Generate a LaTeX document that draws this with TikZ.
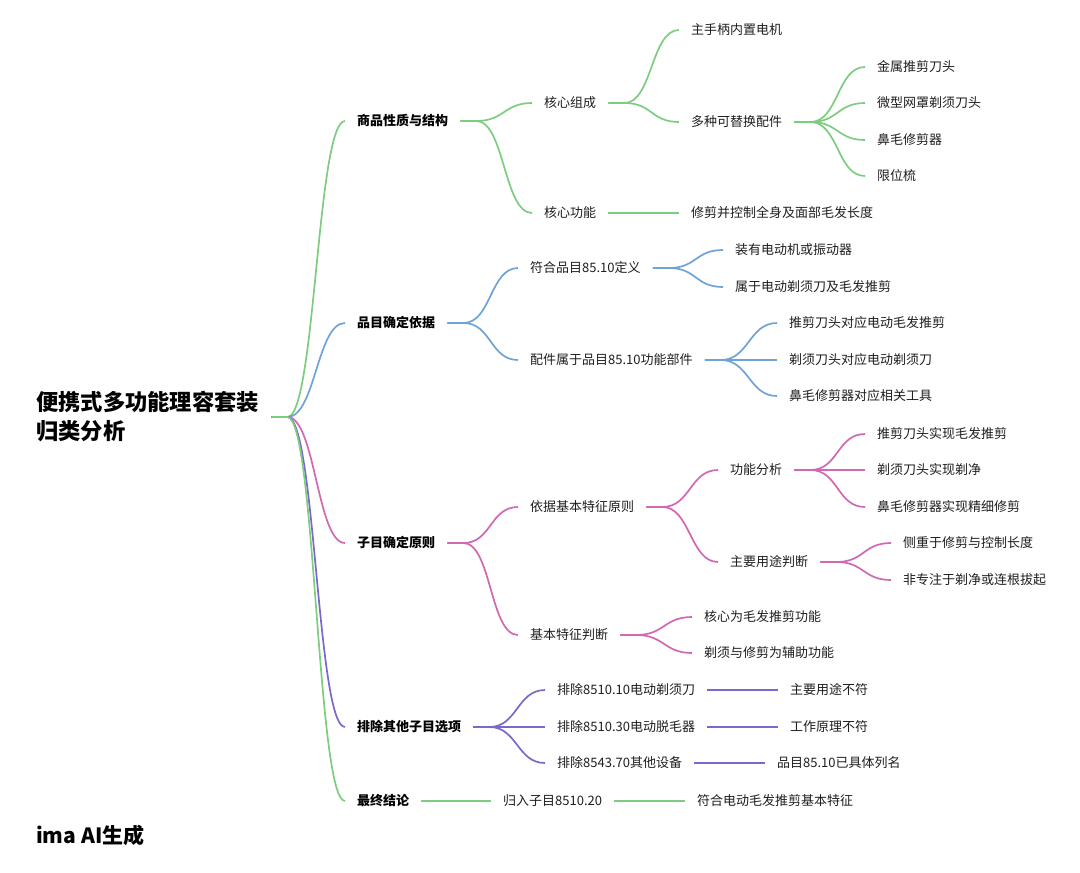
\documentclass[tikz,border=0pt]{standalone}
\usepackage{fontspec}
\setmainfont{Noto Sans CJK SC}
\usepackage{tikz}
\definecolor{branchgreen}{RGB}{126,204,128}
\definecolor{branchblue}{RGB}{111,163,214}
\definecolor{branchpink}{RGB}{208,104,178}
\definecolor{branchpurple}{RGB}{122,104,204}
\definecolor{topictext}{RGB}{30,30,30}
\tikzset{
  topic/.style={anchor=west,inner xsep=12pt,inner ysep=0pt,text=topictext,
    font=\fontsize{13}{16}\selectfont,text height=10.5pt,text depth=2.5pt},
  maintopic/.style={topic,font=\fontsize{13}{16}\selectfont\bfseries,text=black},
  roottopic/.style={anchor=west,inner xsep=12pt,inner ysep=0pt,align=left,
    font=\fontsize{22.3}{29}\selectfont\bfseries},
  branch/.style={line width=1.7pt,
    to path={-- ++(16,0) .. controls +(28,0) and +(-28,0) .. (\tikztotarget)}},
  link/.style={line width=1.7pt}
}

\begin{document}
\begin{tikzpicture}[x=1pt,y=-1pt]
  \useasboundingbox (0,0) rectangle (1080,873);
  \node[roottopic] (r) at (24,417) {便携式多功能理容套装\\归类分析};
  \node[maintopic] (a) at (345,121) {商品性质与结构};
  \node[maintopic] (b) at (345,323) {品目确定依据};
  \node[maintopic] (c) at (345,543) {子目确定原则};
  \node[maintopic] (d) at (345,727) {排除其他子目选项};
  \node[maintopic] (e) at (345,801) {最终结论};
  \node[topic] (a1) at (532,103) {核心组成};
  \node[topic] (a2) at (532,213) {核心功能};
  \node[topic] (a11) at (679,30) {主手柄内置电机};
  \node[topic] (a12) at (679,122) {多种可替换配件};
  \node[topic] (a121) at (865,67) {金属推剪刀头};
  \node[topic] (a122) at (865,103) {微型网罩剃须刀头};
  \node[topic] (a123) at (865,140) {鼻毛修剪器};
  \node[topic] (a124) at (865,176) {限位梳};
  \node[topic] (a21) at (679,213) {修剪并控制全身及面部毛发长度};
  \node[topic] (b1) at (518,268) {符合品目85.10定义};
  \node[topic] (b2) at (518,360) {配件属于品目85.10功能部件};
  \node[topic] (b11) at (723,250) {装有电动机或振动器};
  \node[topic] (b12) at (723,287) {属于电动剃须刀及毛发推剪};
  \node[topic] (b21) at (777,323) {推剪刀头对应电动毛发推剪};
  \node[topic] (b22) at (777,360) {剃须刀头对应电动剃须刀};
  \node[topic] (b23) at (777,396) {鼻毛修剪器对应相关工具};
  \node[topic] (c1) at (518,507) {依据基本特征原则};
  \node[topic] (c2) at (518,635) {基本特征判断};
  \node[topic] (c11) at (718,470) {功能分析};
  \node[topic] (c12) at (718,562) {主要用途判断};
  \node[topic] (c111) at (865,434) {推剪刀头实现毛发推剪};
  \node[topic] (c112) at (865,470) {剃须刀头实现剃净};
  \node[topic] (c113) at (865,507) {鼻毛修剪器实现精细修剪};
  \node[topic] (c121) at (891,543) {侧重于修剪与控制长度};
  \node[topic] (c122) at (891,580) {非专注于剃净或连根拔起};
  \node[topic] (c21) at (692,617) {核心为毛发推剪功能};
  \node[topic] (c22) at (692,653) {剃须与修剪为辅助功能};
  \node[topic] (d1) at (545,690) {排除8510.10电动剃须刀};
  \node[topic] (d2) at (545,727) {排除8510.30电动脱毛器};
  \node[topic] (d3) at (545,763) {排除8543.70其他设备};
  \node[topic] (d11) at (778,690) {主要用途不符};
  \node[topic] (d21) at (778,727) {工作原理不符};
  \node[topic] (d31) at (765,763) {品目85.10已具体列名};
  \node[topic] (e1) at (491,801) {归入子目8510.20};
  \node[topic] (e11) at (685,801) {符合电动毛发推剪基本特征};
  \node[anchor=west,inner sep=0pt,font=\fontsize{21}{26}\selectfont\bfseries] (mark) at (36,835) {ima AI生成};
  \draw[branch,branchgreen] (r.east) to (a.west);
  \draw[branch,branchblue] (r.east) to (b.west);
  \draw[branch,branchpink] (r.east) to (c.west);
  \draw[branch,branchpurple] (r.east) to (d.west);
  \draw[branch,branchgreen] (r.east) to (e.west);
  \draw[branch,branchgreen] (a.east) to (a1.west);
  \draw[branch,branchgreen] (a.east) to (a2.west);
  \draw[branch,branchgreen] (a1.east) to (a11.west);
  \draw[branch,branchgreen] (a1.east) to (a12.west);
  \draw[branch,branchgreen] (a12.east) to (a121.west);
  \draw[branch,branchgreen] (a12.east) to (a122.west);
  \draw[branch,branchgreen] (a12.east) to (a123.west);
  \draw[branch,branchgreen] (a12.east) to (a124.west);
  \draw[link,branchgreen] (a2.east) -- (a21.west);
  \draw[branch,branchblue] (b.east) to (b1.west);
  \draw[branch,branchblue] (b.east) to (b2.west);
  \draw[branch,branchblue] (b1.east) to (b11.west);
  \draw[branch,branchblue] (b1.east) to (b12.west);
  \draw[branch,branchblue] (b2.east) to (b21.west);
  \draw[branch,branchblue] (b2.east) to (b22.west);
  \draw[branch,branchblue] (b2.east) to (b23.west);
  \draw[branch,branchpink] (c.east) to (c1.west);
  \draw[branch,branchpink] (c.east) to (c2.west);
  \draw[branch,branchpink] (c1.east) to (c11.west);
  \draw[branch,branchpink] (c1.east) to (c12.west);
  \draw[branch,branchpink] (c11.east) to (c111.west);
  \draw[branch,branchpink] (c11.east) to (c112.west);
  \draw[branch,branchpink] (c11.east) to (c113.west);
  \draw[branch,branchpink] (c12.east) to (c121.west);
  \draw[branch,branchpink] (c12.east) to (c122.west);
  \draw[branch,branchpink] (c2.east) to (c21.west);
  \draw[branch,branchpink] (c2.east) to (c22.west);
  \draw[branch,branchpurple] (d.east) to (d1.west);
  \draw[branch,branchpurple] (d.east) to (d2.west);
  \draw[branch,branchpurple] (d.east) to (d3.west);
  \draw[link,branchpurple] (d1.east) -- (d11.west);
  \draw[link,branchpurple] (d2.east) -- (d21.west);
  \draw[link,branchpurple] (d3.east) -- (d31.west);
  \draw[link,branchgreen] (e.east) -- (e1.west);
  \draw[link,branchgreen] (e1.east) -- (e11.west);
\end{tikzpicture}
\end{document}
